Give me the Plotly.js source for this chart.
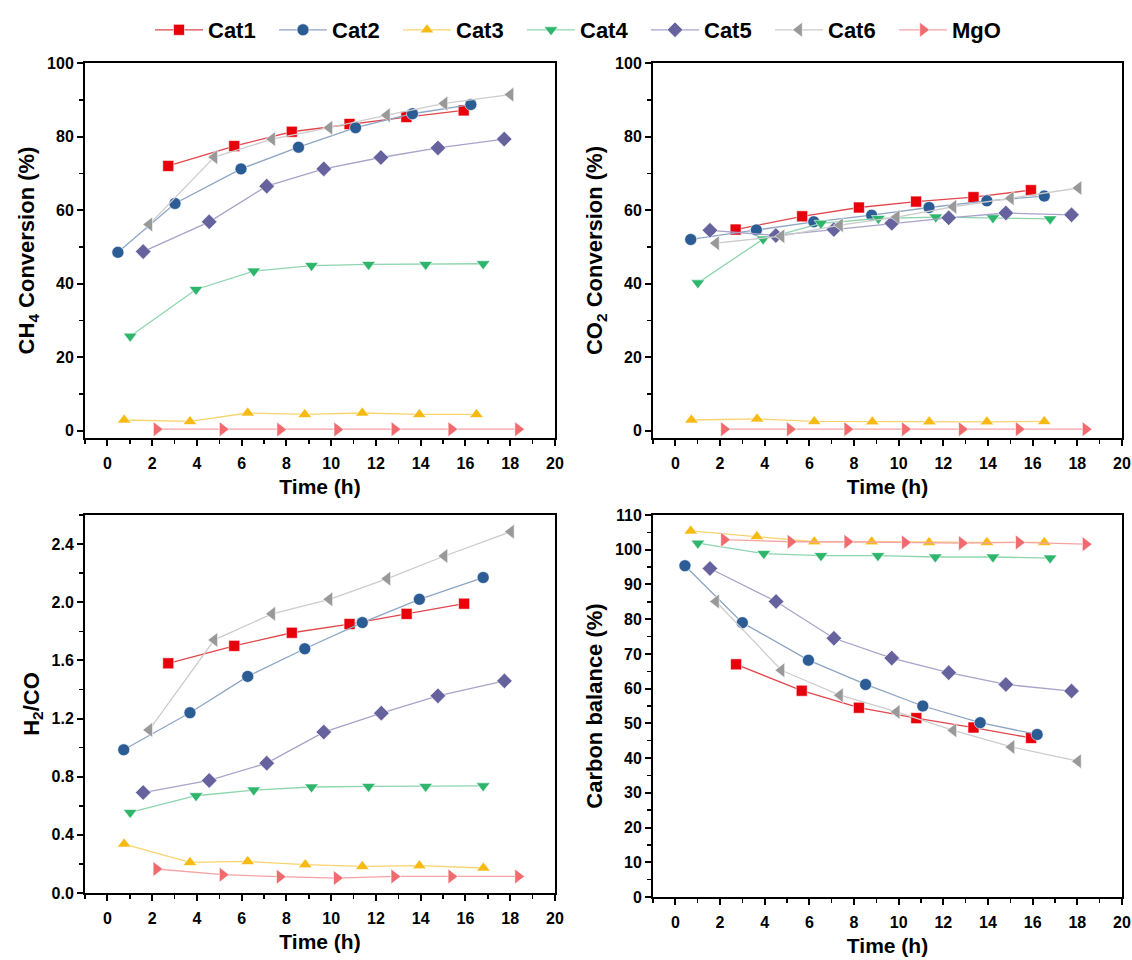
<!DOCTYPE html>
<html>
<head>
<meta charset="utf-8">
<script src="https://cdn.plot.ly/plotly-3.0.1.min.js"></script>
<style>html,body{margin:0;padding:0;background:#fff;}#chart{width:1132px;height:960px;}</style>
</head>
<body>
<div id="chart"></div>
<script>
// Series names
const seriesNames = ["Cat1", "Cat2", "Cat3", "Cat4", "Cat5", "Cat6", "MgO"];

// Panel 1: CH4 conversion (%) vs time (h)
const ch4_t_cat1 = [2.72, 5.67, 8.24, 10.82, 13.36, 15.92];
const ch4_cat1   = [72.0, 77.4, 81.3, 83.4, 85.3, 87.1];
const ch4_t_cat2 = [0.47, 3.02, 5.97, 8.54, 11.09, 13.63, 16.24];
const ch4_cat2   = [48.5, 61.8, 71.2, 77.1, 82.4, 86.2, 88.7];
const ch4_t_cat3 = [0.75, 3.69, 6.27, 8.82, 11.39, 13.94, 16.49];
const ch4_cat3   = [2.9, 2.5, 4.8, 4.4, 4.8, 4.4, 4.4];
const ch4_t_cat4 = [1.02, 3.96, 6.54, 9.12, 11.67, 14.22, 16.79];
const ch4_cat4   = [25.7, 38.4, 43.4, 44.9, 45.2, 45.2, 45.4];
const ch4_t_cat5 = [1.6, 4.55, 7.12, 9.67, 12.22, 14.77, 17.73];
const ch4_cat5   = [48.7, 56.8, 66.5, 71.2, 74.3, 76.9, 79.3];
const ch4_t_cat6 = [1.87, 4.78, 7.36, 9.92, 12.49, 15.06, 18.01];
const ch4_cat6   = [56.1, 74.4, 79.3, 82.4, 85.8, 89.0, 91.4];
const ch4_t_mgo  = [2.2, 5.15, 7.72, 10.27, 12.83, 15.37, 18.35];
const ch4_mgo    = [0.4, 0.4, 0.3, 0.3, 0.4, 0.4, 0.4];

// Panel 2: CO2 conversion (%) vs time (h)
const co2_t_cat1 = [2.70, 5.68, 8.22, 10.78, 13.35, 15.92];
const co2_cat1   = [54.7, 58.3, 60.7, 62.3, 63.5, 65.4];
const co2_t_cat2 = [0.69, 3.63, 6.2, 8.79, 11.36, 13.95, 16.52];
const co2_cat2   = [52.0, 54.6, 56.8, 58.6, 60.7, 62.5, 63.8];
const co2_t_cat3 = [0.72, 3.66, 6.22, 8.82, 11.37, 13.95, 16.52];
const co2_cat3   = [2.9, 3.2, 2.5, 2.4, 2.4, 2.4, 2.5];
const co2_t_cat4 = [1.01, 3.93, 6.52, 9.09, 11.66, 14.22, 16.78];
const co2_cat4   = [40.2, 52.1, 56.4, 57.7, 58.1, 57.9, 57.6];
const co2_t_cat5 = [1.55, 4.5, 7.1, 9.69, 12.24, 14.8, 17.74];
const co2_cat5   = [54.5, 53.1, 54.7, 56.4, 57.9, 59.2, 58.7];
const co2_t_cat6 = [1.82, 4.75, 7.37, 9.91, 12.45, 15.02, 18.05];
const co2_cat6   = [51.0, 52.9, 55.9, 58.1, 60.9, 63.2, 66.0];
const co2_t_mgo  = [2.18, 5.13, 7.7, 10.28, 12.83, 15.38, 18.37];
const co2_mgo    = [0.4, 0.4, 0.4, 0.4, 0.4, 0.4, 0.4];

// Panel 3: H2/CO ratio vs time (h)
const h2co_t_cat1 = [2.72, 5.67, 8.24, 10.82, 13.37, 15.94];
const h2co_cat1   = [1.58, 1.70, 1.79, 1.85, 1.92, 1.99];
const h2co_t_cat2 = [0.73, 3.69, 6.27, 8.82, 11.39, 13.94, 16.79];
const h2co_cat2   = [0.985, 1.24, 1.49, 1.68, 1.86, 2.02, 2.17];
const h2co_t_cat3 = [0.75, 3.69, 6.27, 8.84, 11.39, 13.94, 16.8];
const h2co_cat3   = [0.337, 0.21, 0.217, 0.195, 0.183, 0.188, 0.172];
const h2co_t_cat4 = [1.02, 3.96, 6.54, 9.12, 11.67, 14.22, 16.79];
const h2co_cat4   = [0.554, 0.669, 0.708, 0.729, 0.733, 0.733, 0.737];
const h2co_t_cat5 = [1.6, 4.55, 7.12, 9.67, 12.24, 14.77, 17.74];
const h2co_cat5   = [0.691, 0.774, 0.893, 1.107, 1.237, 1.356, 1.459];
const h2co_t_cat6 = [1.87, 4.78, 7.36, 9.92, 12.51, 15.06, 18.03];
const h2co_cat6   = [1.122, 1.741, 1.92, 2.02, 2.162, 2.318, 2.485];
const h2co_t_mgo  = [2.19, 5.15, 7.7, 10.25, 12.82, 15.37, 18.35];
const h2co_mgo    = [0.165, 0.126, 0.112, 0.103, 0.114, 0.114, 0.114];

// Panel 4: Carbon balance (%) vs time (h)
const cb_t_cat1 = [2.72, 5.66, 8.22, 10.79, 13.35, 15.93];
const cb_cat1   = [67.0, 59.4, 54.5, 51.5, 48.8, 45.8];
const cb_t_cat2 = [0.43, 3.0, 5.96, 8.52, 11.08, 13.65, 16.2];
const cb_cat2   = [95.4, 79.0, 68.2, 61.2, 55.0, 50.2, 46.8];
const cb_t_cat3 = [0.69, 3.65, 6.22, 8.79, 11.36, 13.95, 16.52];
const cb_cat3   = [105.4, 103.8, 102.3, 102.3, 102.1, 102.1, 102.1];
const cb_t_cat4 = [1.01, 3.96, 6.52, 9.07, 11.64, 14.22, 16.78];
const cb_cat4   = [101.9, 98.9, 98.3, 98.3, 97.9, 97.9, 97.6];
const cb_t_cat5 = [1.55, 4.51, 7.1, 9.69, 12.24, 14.8, 17.74];
const cb_cat5   = [94.6, 85.1, 74.5, 68.8, 64.6, 61.2, 59.3];
const cb_t_cat6 = [1.82, 4.75, 7.37, 9.91, 12.45, 15.05, 18.03];
const cb_cat6   = [85.1, 65.3, 58.1, 53.3, 48.0, 43.2, 39.1];
const cb_t_mgo  = [2.18, 5.16, 7.7, 10.28, 12.83, 15.38, 18.37];
const cb_mgo    = [102.9, 102.3, 102.3, 102.1, 101.9, 102.1, 101.6];

// Tick labels
const xTicks = [0, 2, 4, 6, 8, 10, 12, 14, 16, 18, 20];
const convTicks = [0, 20, 40, 60, 80, 100];
const ratioTicks = [0.0, 0.4, 0.8, 1.2, 1.6, 2.0, 2.4];
const cbTicks = [0, 10, 20, 30, 40, 50, 60, 70, 80, 90, 100, 110];

// Styles
const markerColors = ["#E8000B", "#2B5C94", "#F6BA12", "#2EB66C", "#66629E", "#999999", "#F06A6E"];
const lineColors   = ["#E0474C", "#8DA5C4", "#F8D46E", "#8ED5AE", "#A7A3C9", "#CCCCCC", "#F5A3A5"];
const symbols = ["square", "circle", "triangle-up", "triangle-down", "diamond", "triangle-left", "triangle-right"];
const sizes = [11, 12, 12, 12, 12, 13, 13];

const panels = [
  {xa: "x",  ya: "y",  data: [[ch4_t_cat1, ch4_cat1], [ch4_t_cat2, ch4_cat2], [ch4_t_cat3, ch4_cat3], [ch4_t_cat4, ch4_cat4], [ch4_t_cat5, ch4_cat5], [ch4_t_cat6, ch4_cat6], [ch4_t_mgo, ch4_mgo]]},
  {xa: "x2", ya: "y2", data: [[co2_t_cat1, co2_cat1], [co2_t_cat2, co2_cat2], [co2_t_cat3, co2_cat3], [co2_t_cat4, co2_cat4], [co2_t_cat5, co2_cat5], [co2_t_cat6, co2_cat6], [co2_t_mgo, co2_mgo]]},
  {xa: "x3", ya: "y3", data: [[h2co_t_cat1, h2co_cat1], [h2co_t_cat2, h2co_cat2], [h2co_t_cat3, h2co_cat3], [h2co_t_cat4, h2co_cat4], [h2co_t_cat5, h2co_cat5], [h2co_t_cat6, h2co_cat6], [h2co_t_mgo, h2co_mgo]]},
  {xa: "x4", ya: "y4", data: [[cb_t_cat1, cb_cat1], [cb_t_cat2, cb_cat2], [cb_t_cat3, cb_cat3], [cb_t_cat4, cb_cat4], [cb_t_cat5, cb_cat5], [cb_t_cat6, cb_cat6], [cb_t_mgo, cb_mgo]]}
];

const traces = [];
panels.forEach((p, pi) => {
  p.data.forEach((d, i) => {
    traces.push({
      type: "scatter", mode: "lines+markers",
      x: d[0], y: d[1], xaxis: p.xa, yaxis: p.ya,
      name: seriesNames[i], legendgroup: seriesNames[i], showlegend: pi === 0,
      line: {color: lineColors[i], width: 1.3},
      marker: {symbol: symbols[i], size: sizes[i], color: markerColors[i], line: {width: 0.6, color: "#ffffff"}}
    });
  });
});

const FONT = "Liberation Sans, Arial, sans-serif";
const tickFont = {family: FONT, size: 16, color: "#000", weight: "bold"};
const xTitleFont = {family: FONT, size: 21, color: "#000", weight: "bold"};
const yTitleFont = {family: FONT, size: 22, color: "#000", weight: "bold"};

function xAxis(domain, anchor) {
  return {
    domain: domain, anchor: anchor, range: [-1, 20],
    tickmode: "array", tickvals: xTicks, ticktext: xTicks.map(String),
    ticks: "outside", ticklen: 6, tickwidth: 2, tickcolor: "#000",
    minor: {ticks: "outside", ticklen: 4, tickwidth: 1.5, tickcolor: "#000", dtick: 1, tick0: 0, showgrid: false},
    showline: true, linecolor: "#000", linewidth: 2, mirror: true,
    showgrid: false, zeroline: false, tickfont: tickFont, ticklabelstandoff: 4,
    title: {text: "Time (h)", font: xTitleFont, standoff: 8}
  };
}
function yAxis(domain, anchor, range, tickvals, fmt, minorStep, title) {
  return {
    domain: domain, anchor: anchor, range: range,
    tickmode: "array", tickvals: tickvals, ticktext: tickvals.map(v => fmt ? v.toFixed(1) : String(v)),
    ticks: "outside", ticklen: 6, tickwidth: 2, tickcolor: "#000",
    minor: {ticks: "outside", ticklen: 4, tickwidth: 1.5, tickcolor: "#000", dtick: minorStep, tick0: 0, showgrid: false},
    showline: true, linecolor: "#000", linewidth: 2, mirror: true,
    showgrid: false, zeroline: false, tickfont: tickFont,
    title: {text: title, font: yTitleFont, standoff: 6}
  };
}

const W = 1132, H = 960;
const colL = [85 / W, 555 / W], colR = [653 / W, 1122 / W];
const rowT = [1 - 438 / H, 1 - 63 / H];
const rowB3 = [1 - 893 / H, 1 - 515 / H];
const rowB4 = [1 - 897 / H, 1 - 515 / H];

const layout = {
  width: W, height: H,
  margin: {l: 0, r: 0, t: 0, b: 0},
  paper_bgcolor: "#fff", plot_bgcolor: "#fff",
  font: {family: FONT, color: "#000"},
  showlegend: true,
  legend: {orientation: "h", x: 584 / W, xanchor: "center", y: 1 - 30 / H, yanchor: "middle",
           font: {family: FONT, size: 22, color: "#000", weight: "bold"},
           entrywidth: 61, itemwidth: 48, bgcolor: "rgba(0,0,0,0)"},
  xaxis: xAxis(colL, "y"),
  yaxis: yAxis(rowT, "x", [-2, 100], convTicks, false, 10, "CH<sub>4</sub> Conversion (%)"),
  xaxis2: xAxis(colR, "y2"),
  yaxis2: yAxis(rowT, "x2", [-2, 100], convTicks, false, 10, "CO<sub>2</sub> Conversion (%)"),
  xaxis3: xAxis(colL, "y3"),
  yaxis3: yAxis(rowB3, "x3", [0, 2.6], ratioTicks, true, 0.2, "H<sub>2</sub>/CO"),
  xaxis4: xAxis(colR, "y4"),
  yaxis4: yAxis(rowB4, "x4", [0, 110], cbTicks, false, 5, "Carbon balance (%)")
};

Plotly.newPlot("chart", traces, layout, {displayModeBar: false, staticPlot: true});
</script>
</body>
</html>
